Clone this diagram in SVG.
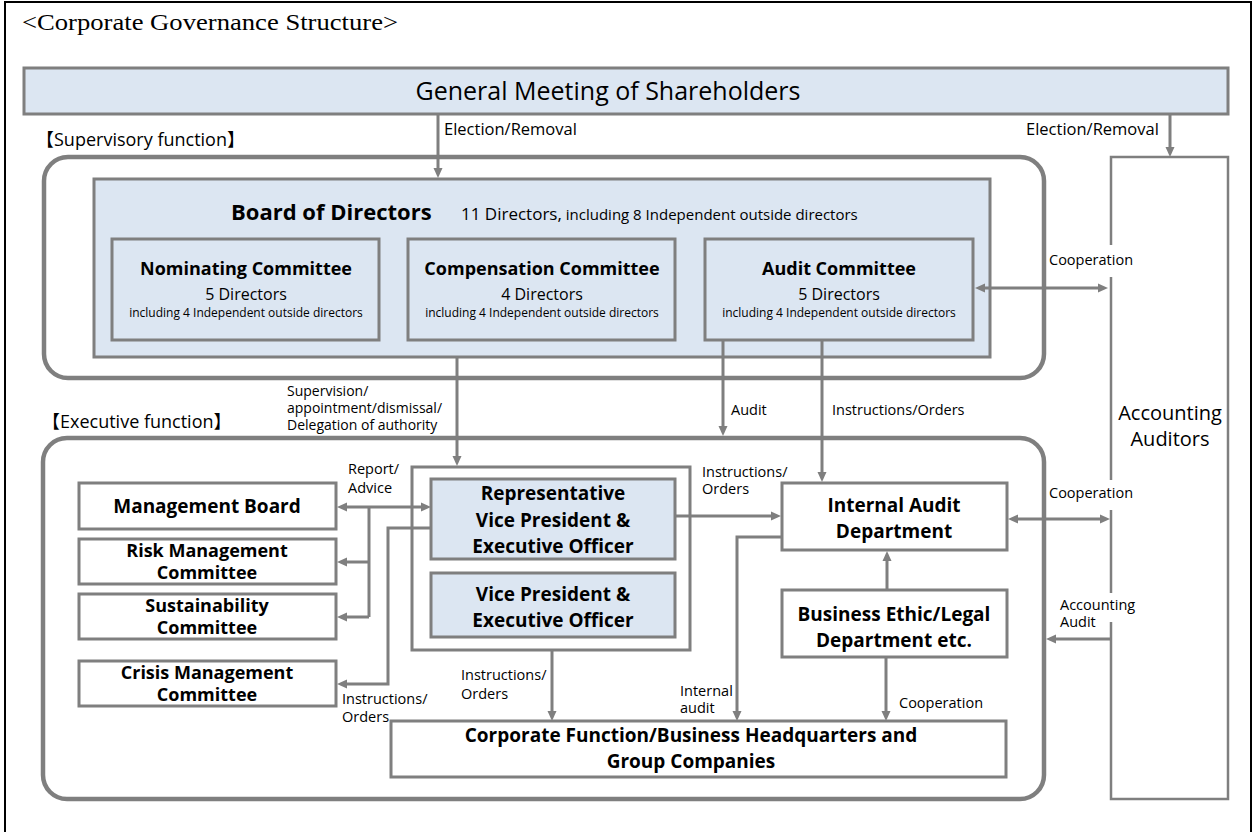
<svg xmlns="http://www.w3.org/2000/svg" width="1256" height="832" viewBox="0 0 1256 832">
<style>
.box{fill:#ffffff;stroke:#7f7f7f;stroke-width:3}
.blue{fill:#dce6f2;stroke:#7f7f7f;stroke-width:3}
.cont{fill:none;stroke:#7f7f7f;stroke-width:4.5}
.ln{fill:none;stroke:#7f7f7f;stroke-width:3}
text{font-family:"Open Sans","Noto Sans CJK JP",sans-serif;fill:#000}
.b{font-weight:bold}
.t19{font-size:19px;font-weight:bold}
.t18{font-size:18px;font-weight:bold}
.lab{font-size:14.5px}
.wb{fill:#ffffff;stroke:none}
</style>
<defs>
<marker id="ah" viewBox="0 0 10 10" refX="2" refY="5" markerWidth="10" markerHeight="10" markerUnits="userSpaceOnUse" orient="auto-start-reverse">
<path d="M0,0.5 L10,5 L0,9.5 z" fill="#7f7f7f"/>
</marker>
</defs>
<rect x="0" y="0" width="1256" height="832" fill="#ffffff"/>
<path d="M5,832 V2 H1251 V832" fill="none" stroke="#000" stroke-width="2"/>
<text x="22" y="30" style="font-family:'Liberation Serif',serif;font-size:23px" textLength="376" lengthAdjust="spacingAndGlyphs">&lt;Corporate Governance Structure&gt;</text>

<g id="labels-sections">
<text x="36" y="146" style="font-size:18px">【Supervisory function】</text>
<text x="42" y="428" style="font-size:18px">【Executive function】</text>
</g>

<g id="gm">
<rect class="blue" x="24" y="68" width="1204" height="46"/>
<text x="608" y="100" text-anchor="middle" style="font-size:25px">General Meeting of Shareholders</text>
</g>

<g id="supervisory">
<rect class="cont" x="44" y="157" width="1000" height="221" rx="24"/>
</g>
<g id="executive">
<rect class="cont" x="43" y="438" width="1001" height="361" rx="24"/>
</g>

<g id="accounting-auditors">
<rect x="1111" y="157" width="117" height="642" fill="#fff" stroke="#7f7f7f" stroke-width="2.5"/>
<text text-anchor="middle" style="font-size:20px"><tspan x="1170" y="420">Accounting</tspan><tspan x="1170" y="446">Auditors</tspan></text>
</g>

<g id="board">
<rect class="blue" x="94" y="179" width="896" height="178"/>
<text x="231" y="220" class="b" style="font-size:22px">Board of Directors</text>
<text x="461" y="220"><tspan style="font-size:17px">11 Directors,</tspan><tspan style="font-size:15px"> including 8 Independent outside directors</tspan></text>
</g>

<g id="nominating">
<rect class="blue" x="112" y="239" width="267" height="101"/>
<text x="246" y="275" text-anchor="middle" class="b" style="font-size:18px">Nominating Committee</text>
<text x="246" y="300" text-anchor="middle" style="font-size:16px">5 Directors</text>
<text x="246" y="317" text-anchor="middle" style="font-size:12px">including 4 Independent outside directors</text>
</g>
<g id="compensation">
<rect class="blue" x="408" y="239" width="267" height="101"/>
<text x="542" y="275" text-anchor="middle" class="b" style="font-size:18px">Compensation Committee</text>
<text x="542" y="300" text-anchor="middle" style="font-size:16px">4 Directors</text>
<text x="542" y="317" text-anchor="middle" style="font-size:12px">including 4 Independent outside directors</text>
</g>
<g id="audit-committee">
<rect class="blue" x="705" y="239" width="268" height="101"/>
<text x="839" y="275" text-anchor="middle" class="b" style="font-size:18px">Audit Committee</text>
<text x="839" y="300" text-anchor="middle" style="font-size:16px">5 Directors</text>
<text x="839" y="317" text-anchor="middle" style="font-size:12px">including 4 Independent outside directors</text>
</g>

<g id="officers">
<rect class="box" x="412" y="467" width="278" height="183"/>
</g>
<g id="rep-vp">
<rect class="blue" x="431" y="479" width="244" height="80"/>
<text text-anchor="middle" class="t19"><tspan x="553" y="500">Representative</tspan><tspan x="553" y="527">Vice President &amp;</tspan><tspan x="553" y="553">Executive Officer</tspan></text>
</g>
<g id="vp">
<rect class="blue" x="431" y="573" width="244" height="64"/>
<text text-anchor="middle" class="t19"><tspan x="553" y="601">Vice President &amp;</tspan><tspan x="553" y="627">Executive Officer</tspan></text>
</g>

<g id="management-board">
<rect class="box" x="79" y="483" width="257" height="46"/>
<text x="207" y="513" text-anchor="middle" class="t19">Management Board</text>
</g>
<g id="risk">
<rect class="box" x="79" y="539" width="257" height="45"/>
<text text-anchor="middle" class="t18"><tspan x="207" y="557">Risk Management</tspan><tspan x="207" y="579">Committee</tspan></text>
</g>
<g id="sustainability">
<rect class="box" x="79" y="594" width="257" height="45"/>
<text text-anchor="middle" class="t18"><tspan x="207" y="612">Sustainability</tspan><tspan x="207" y="634">Committee</tspan></text>
</g>
<g id="crisis">
<rect class="box" x="79" y="661" width="257" height="45"/>
<text text-anchor="middle" class="t18"><tspan x="207" y="679">Crisis Management</tspan><tspan x="207" y="701">Committee</tspan></text>
</g>

<g id="internal-audit">
<rect class="box" x="782" y="483" width="225" height="67"/>
<text text-anchor="middle" class="t19"><tspan x="894" y="512">Internal Audit</tspan><tspan x="894" y="538">Department</tspan></text>
</g>
<g id="business-ethic">
<rect class="box" x="782" y="590" width="225" height="67"/>
<text text-anchor="middle" class="t19"><tspan x="894" y="621">Business Ethic/Legal</tspan><tspan x="894" y="647">Department etc.</tspan></text>
</g>
<g id="corporate">
<rect class="box" x="391" y="721" width="615" height="56"/>
<text text-anchor="middle" class="t19"><tspan x="691" y="742">Corporate Function/Business Headquarters and</tspan><tspan x="691" y="768">Group Companies</tspan></text>
</g>

<g id="connectors">
<line class="ln" x1="438" y1="114" x2="438" y2="170" marker-end="url(#ah)"/>
<line class="ln" x1="1170" y1="114" x2="1170" y2="149" marker-end="url(#ah)"/>
<line class="ln" x1="983" y1="288" x2="1100" y2="288" marker-start="url(#ah)" marker-end="url(#ah)"/>
<line class="ln" x1="457" y1="357" x2="457" y2="458" marker-end="url(#ah)"/>
<line class="ln" x1="723" y1="340" x2="723" y2="428" marker-end="url(#ah)"/>
<line class="ln" x1="822" y1="340" x2="822" y2="474" marker-end="url(#ah)"/>
<line class="ln" x1="675" y1="516" x2="773" y2="516" marker-end="url(#ah)"/>
<line class="ln" x1="1016" y1="519" x2="1102" y2="519" marker-start="url(#ah)" marker-end="url(#ah)"/>
<line class="ln" x1="1111" y1="639" x2="1054" y2="639" marker-end="url(#ah)"/>
<line class="ln" x1="887" y1="590" x2="887" y2="559" marker-end="url(#ah)"/>
<path class="ln" d="M782,537 H737 V713" marker-end="url(#ah)"/>
<line class="ln" x1="886" y1="657" x2="886" y2="713" marker-end="url(#ah)"/>
<line class="ln" x1="552" y1="650" x2="552" y2="713" marker-end="url(#ah)"/>
<line class="ln" x1="345" y1="507" x2="423" y2="507" marker-start="url(#ah)" marker-end="url(#ah)"/>
<path class="ln" d="M369,507 V617"/>
<line class="ln" x1="369" y1="562" x2="345" y2="562" marker-end="url(#ah)"/>
<line class="ln" x1="369" y1="617" x2="345" y2="617" marker-end="url(#ah)"/>
<path class="ln" d="M431,528 H388 V684 H345" marker-end="url(#ah)"/>
</g>

<g id="connector-labels">
<text x="444" y="135" style="font-size:16.5px">Election/Removal</text>
<text x="1026" y="135" style="font-size:16.5px">Election/Removal</text>
<rect class="wb" x="1047" y="245" width="88" height="32"/>
<text x="1049" y="265" class="lab">Cooperation</text>
<text style="font-size:14px"><tspan x="287" y="396">Supervision/</tspan><tspan x="287" y="413">appointment/dismissal/</tspan><tspan x="287" y="430">Delegation of authority</tspan></text>
<text x="731" y="415" class="lab">Audit</text>
<text x="832" y="415" class="lab">Instructions/Orders</text>
<text class="lab"><tspan x="348" y="474">Report/</tspan><tspan x="348" y="493">Advice</tspan></text>
<text class="lab"><tspan x="702" y="477">Instructions/</tspan><tspan x="702" y="494">Orders</tspan></text>
<rect class="wb" x="1047" y="480" width="88" height="30"/>
<text x="1049" y="498" class="lab">Cooperation</text>
<rect class="wb" x="1056" y="593" width="80" height="29"/>
<text class="lab"><tspan x="1060" y="610">Accounting</tspan><tspan x="1060" y="627">Audit</tspan></text>
<text class="lab"><tspan x="461" y="680">Instructions/</tspan><tspan x="461" y="699">Orders</tspan></text>
<text class="lab"><tspan x="342" y="704">Instructions/</tspan><tspan x="342" y="722">Orders</tspan></text>
<text class="lab"><tspan x="680" y="696">Internal</tspan><tspan x="680" y="713">audit</tspan></text>
<text x="899" y="708" class="lab">Cooperation</text>
</g>
</svg>
